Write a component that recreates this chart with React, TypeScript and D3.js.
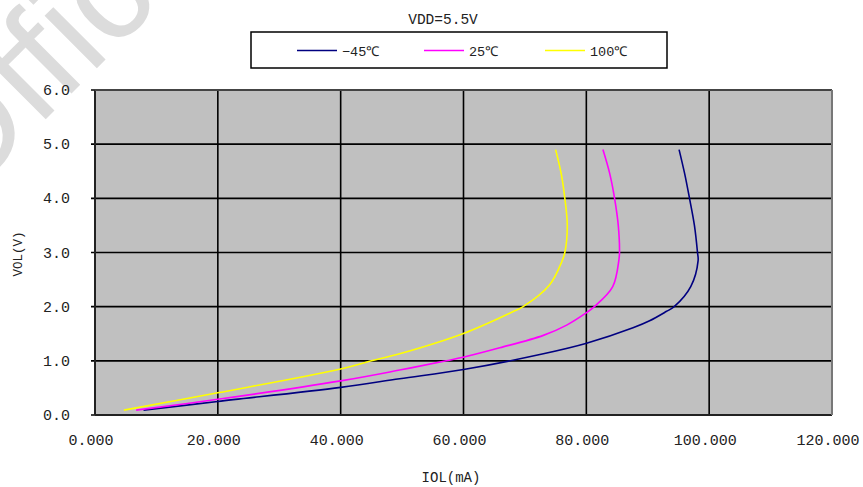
import React from "react";
import * as d3 from "d3";

const W = 863;
const H = 487;

// Series: -45°C
const iolCold = [7.9, 20, 40, 49.6, 60, 73, 79.9, 87.6, 90.3, 93, 94.3, 97, 98.2, 98.1, 97.6, 96.8, 96.0, 95.1];
const volCold = [0.09, 0.25, 0.51, 0.67, 0.84, 1.13, 1.32, 1.61, 1.74, 1.91, 2.0, 2.37, 2.85, 3.0, 3.5, 4.0, 4.46, 4.9];
// Series: 25°C
const iolRoom = [6.7, 20, 40, 49.6, 57.2, 60.1, 65.9, 73, 76.8, 79.9, 81.4, 84.3, 85.3, 85.4, 85.2, 84.6, 83.8, 82.7];
const volRoom = [0.09, 0.29, 0.63, 0.83, 1.0, 1.07, 1.24, 1.47, 1.66, 1.88, 2.01, 2.37, 2.86, 3.0, 3.5, 4.0, 4.46, 4.9];
// Series: 100°C
const iolHot = [4.7, 20, 40, 45, 49.6, 60.1, 68.1, 69.7, 74, 76, 76.5, 76.9, 76.5, 75.9, 75.0];
const volHot = [0.09, 0.41, 0.85, 1.0, 1.13, 1.51, 1.91, 2.0, 2.4, 2.83, 3.0, 3.5, 4.0, 4.46, 4.9];

const seriesNames = ["\u221245\u2103", "25\u2103", "100\u2103"];
const seriesColors = ["#000080", "#ff00ff", "#ffff00"];

const xTicks = [0, 20, 40, 60, 80, 100, 120];
const yTicks = [0, 1, 2, 3, 4, 5, 6];

const title = "VDD=5.5V";
const xTitle = "IOL(mA)";
const yTitle = "VOL(V)";
const watermark = "Official";

const MONO = "'Liberation Mono', 'DejaVu Sans Mono', monospace";

export default function App() {
  const x = d3.scaleLinear().domain([0, 120]).range([95, 832]);
  const y = d3.scaleLinear().domain([0, 6]).range([415, 90]);

  const series = [
    { iol: iolCold, vol: volCold },
    { iol: iolRoom, vol: volRoom },
    { iol: iolHot, vol: volHot },
  ];

  const line = d3
    .line<[number, number]>()
    .x((d) => x(d[0]))
    .y((d) => y(d[1]))
    .curve(d3.curveCatmullRom.alpha(0.5));

  const legendX = [297, 424, 545];

  return (
    <svg
      width={W}
      height={H}
      style={{ position: "absolute", left: 0, top: 0, background: "#fff" }}
      fontFamily={MONO}
    >
      {/* watermark */}
      <text
        transform="translate(-40,205) rotate(-45)"
        fontSize={140}
        fontFamily="'Liberation Sans', Arial, sans-serif"
        fill="#dcdcdc"
      >
        {watermark}
      </text>

      {/* plot area */}
      <rect x={x(0)} y={y(6)} width={x(120) - x(0)} height={y(0) - y(6)} fill="#c0c0c0" />
      {yTicks.map((t) => (
        <line key={"gy" + t} x1={x(0) - 4} x2={x(120)} y1={y(t)} y2={y(t)} stroke="#000" strokeWidth={1.6} />
      ))}
      {xTicks.map((t) => (
        <line key={"gx" + t} x1={x(t)} x2={x(t)} y1={y(6)} y2={y(0)} stroke="#000" strokeWidth={1.6} />
      ))}
      <line x1={x(0)} x2={x(0)} y1={y(6)} y2={y(0)} stroke="#222" strokeWidth={2} />
      <line x1={x(0)} x2={x(120)} y1={y(6)} y2={y(6)} stroke="#444" strokeWidth={2} />
      <line x1={x(0)} x2={x(120)} y1={y(0)} y2={y(0)} stroke="#222" strokeWidth={2} />
      <line x1={x(120)} x2={x(120)} y1={y(6)} y2={y(0)} stroke="#777" strokeWidth={2} />

      {/* curves */}
      {series.map((s, i) => (
        <path
          key={"s" + i}
          d={line(s.iol.map((v, k) => [v, s.vol[k]] as [number, number])) || ""}
          fill="none"
          stroke={seriesColors[i]}
          strokeWidth={1.6}
        />
      ))}

      {/* y tick labels */}
      {yTicks.map((t) => (
        <text key={"yl" + t} x={70} y={y(t) + 5} textAnchor="end" fontSize={15} fill="#222">
          {t.toFixed(1)}
        </text>
      ))}
      {/* x tick labels */}
      {xTicks.map((t) => (
        <text key={"xl" + t} x={x(t) - 4} y={445} textAnchor="middle" fontSize={15} fill="#222">
          {t.toFixed(3)}
        </text>
      ))}

      {/* axis titles */}
      <text x={451} y={482} textAnchor="middle" fontSize={14} fill="#222">
        {xTitle}
      </text>
      <text transform="translate(22,254) rotate(-90)" textAnchor="middle" fontSize={12.5} fill="#222">
        {yTitle}
      </text>

      {/* title */}
      <text x={443} y={24} textAnchor="middle" fontSize={14.5} fill="#222">
        {title}
      </text>

      {/* legend */}
      <rect x={251} y={32} width={416} height={36} fill="#fff" stroke="#000" strokeWidth={1.5} />
      {seriesNames.map((n, i) => (
        <g key={"lg" + i}>
          <line x1={legendX[i]} x2={legendX[i] + 40} y1={50.5} y2={50.5} stroke={seriesColors[i]} strokeWidth={1.6} />
          <text x={legendX[i] + 45} y={56} fontSize={13.5} fill="#222">
            {n}
          </text>
        </g>
      ))}
    </svg>
  );
}
